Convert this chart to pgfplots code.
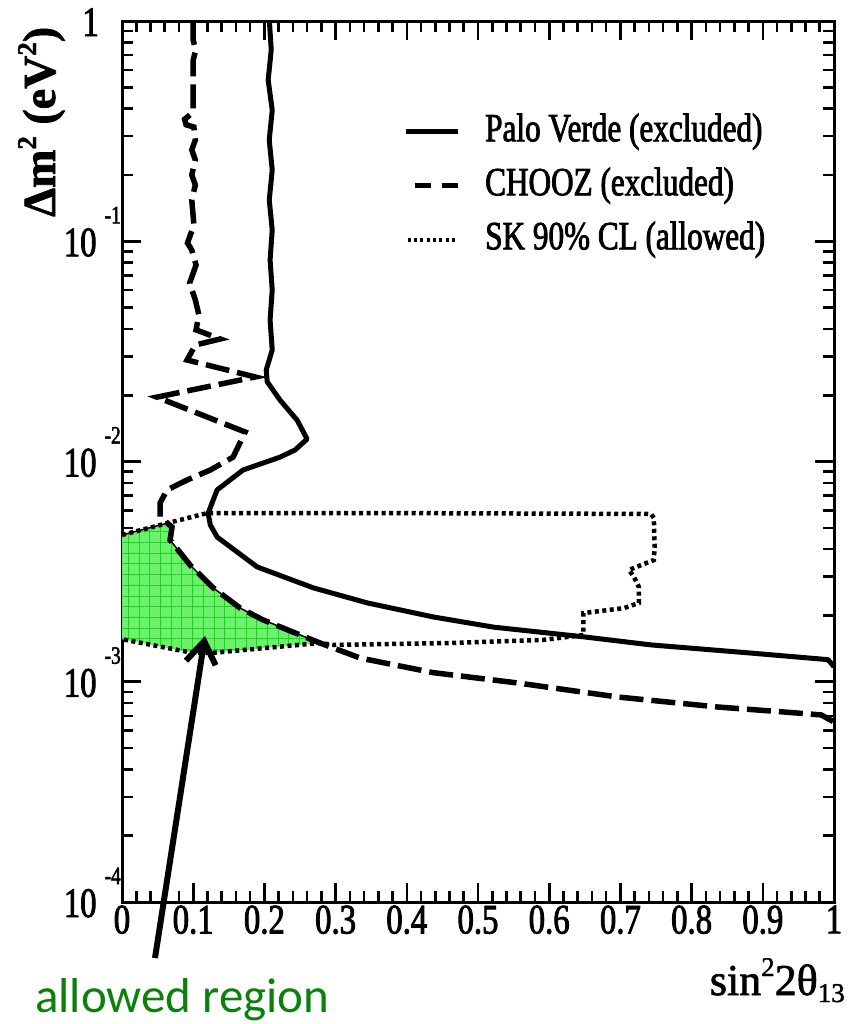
\documentclass[border=0pt]{standalone}
\usepackage{fontspec}
\setmainfont{Liberation Serif}[FakeStretch=0.78, FakeBold=2]
\newfontfamily\wideserif{Liberation Serif}[FakeBold=1.6]
\newfontfamily\notefont{Carlito}
\usepackage{pgfplots}
\pgfplotsset{compat=1.18}
\usetikzlibrary{arrows.meta,patterns.meta}

\definecolor{fillgreen}{RGB}{110,240,110}
\definecolor{gridgreen}{RGB}{20,220,20}
\definecolor{notegreen}{RGB}{10,130,10}

% decade label: "10" with a raised exponent
\newcommand{\dec}[1]{10\kern8bp\raisebox{33bp}{\fontsize{25bp}{25bp}\selectfont #1}}
% raised and lowered indices for the axis titles
\newcommand{\up}[2]{\raisebox{#1}{\fontsize{27bp}{27bp}\selectfont #2}}

\begin{document}
\begin{tikzpicture}
\path[use as bounding box] (0,0) rectangle (848bp,1024bp);
\begin{axis}[
  at={(122bp,122bp)}, anchor=south west,
  scale only axis, width=712bp, height=881bp,
  xmin=0, xmax=1, ymin=1e-4, ymax=1, ymode=log,
  xtick={0,0.1,0.2,0.3,0.4,0.5,0.6,0.7,0.8,0.9,1},
  xticklabels={0,0.1,0.2,0.3,0.4,0.5,0.6,0.7,0.8,0.9,1},
  minor x tick num=4,
  ytick={1e-4,1e-3,1e-2,1e-1,1},
  yticklabels={\dec{-4},\dec{-3},\dec{-2},\dec{-1},1\kern22bp},
  tick align=inside,
  major tick length=19bp, minor tick length=11bp,
  every tick/.style={black, line width=2.6bp},
  axis line style={line width=3bp},
  xticklabel style={font=\fontsize{42bp}{44bp}\selectfont},
  yticklabel style={font=\fontsize{42bp}{44bp}\selectfont, anchor=base east, yshift=-15bp, inner sep=1bp},
  legend style={draw=none, fill=none, at={(rel axis cs:0.3947,0.8955)}, anchor=north west,
    inner sep=0pt, row sep=17bp,
    nodes={inner sep=0pt, text height=28bp, text depth=9bp, font=\fontsize{40bp}{42bp}\selectfont},
    /tikz/every odd column/.style={column sep=25bp}},
  legend cell align=left,
]
% allowed region between the SK contour and the CHOOZ limit
\addplot[fill=fillgreen, draw=none, forget plot,
  postaction={pattern={Hatch[distance=10.7bp, angle=0, line width=0.9bp]}, pattern color=gridgreen}]
  coordinates {(0,0.00464) (0.0647,0.00526) (0.0703,0.00504) (0.0675,0.00440) (0.0956,0.00339)
   (0.128,0.00267) (0.166,0.00216) (0.198,0.00191) (0.278,0.00150) (0.124,0.00135)
   (0.0956,0.00136) (0,0.00156)} --cycle;
\addplot[line width=1.5bp, forget plot] coordinates {(0,0.00464) (0.0647,0.00526)};
\addplot[line width=1.5bp, forget plot] coordinates {(0.0647,0.00526) (0.0703,0.00504) (0.0675,0.00440)
   (0.0956,0.00339) (0.128,0.00267) (0.166,0.00216) (0.198,0.00191) (0.278,0.00150)};

% Palo Verde
\addplot[line width=5bp, line join=round, forget plot] coordinates {
 (0.207,1.0) (0.2096,0.738) (0.2053,0.540) (0.211,0.394) (0.2068,0.288) (0.211,0.2106)
 (0.2068,0.154) (0.211,0.1125) (0.208,0.0822) (0.211,0.0601) (0.208,0.0439) (0.211,0.0321)
 (0.2025,0.0260) (0.204,0.0230) (0.222,0.0190) (0.246,0.0154) (0.260,0.01265) (0.243,0.01128)
 (0.222,0.01047) (0.170,0.00915) (0.1336,0.00743) (0.121,0.00583) (0.124,0.00515)
 (0.1336,0.00454) (0.190,0.00332) (0.2686,0.00267) (0.3446,0.00228) (0.437,0.00197)
 (0.522,0.00177) (0.648,0.00160) (0.743,0.00147) (0.883,0.00135) (0.9916,0.00126) (1.0,0.00117)};

% CHOOZ
\addplot[line width=5.5bp, dash pattern=on 24bp off 8bp, forget plot] coordinates {
 (0.100,1.0) (0.100,0.820) (0.1035,0.738) (0.100,0.665) (0.100,0.386) (0.088,0.358)
 (0.090,0.338) (0.101,0.330) (0.103,0.288) (0.098,0.260) (0.103,0.234) (0.098,0.200)
 (0.103,0.180) (0.098,0.154) (0.101,0.1186) (0.092,0.0982) (0.098,0.0912) (0.104,0.0780)
 (0.095,0.0646) (0.103,0.0541) (0.108,0.0463) (0.104,0.0396) (0.138,0.0360) (0.103,0.0338)
 (0.0914,0.0289) (0.187,0.0242) (0.049,0.0196) (0.173,0.01361) (0.156,0.01047) (0.124,0.00915)
 (0.0914,0.00824) (0.0633,0.00743) (0.0534,0.00648) (0.0534,0.00560) (0.0633,0.00526)
 (0.0703,0.00504) (0.0675,0.00440) (0.0956,0.00339) (0.128,0.00267) (0.166,0.00216)
 (0.198,0.00191) (0.278,0.00150) (0.335,0.00128) (0.437,0.00110) (0.556,0.000987)
 (0.696,0.000853) (0.837,0.000768) (0.930,0.000729) (0.982,0.000707) (1.0,0.000657)};

% SK 90% CL
\addplot[line width=4.5bp, dash pattern=on 4bp off 3.5bp, forget plot] coordinates {
 (0,0.00464) (0.0647,0.00526) (0.1195,0.00583) (0.391,0.00583) (0.743,0.00578) (0.747,0.00554)
 (0.748,0.00409) (0.747,0.00357) (0.712,0.00322) (0.719,0.00299) (0.726,0.00269) (0.726,0.00228)
 (0.705,0.00216) (0.648,0.00205) (0.648,0.00163) (0.592,0.00155) (0.461,0.00150) (0.2968,0.00147)
 (0.278,0.00150) (0.124,0.00135) (0.0956,0.00136) (0,0.00156)};

\addlegendimage{legend image code/.code={\draw[line width=5bp] (0bp,0bp) -- (52bp,0bp);}}
\addlegendentry{Palo Verde (excluded)}
\addlegendimage{legend image code/.code={\draw[line width=5bp, dash pattern=on 16bp off 11bp] (9bp,0bp) -- (52bp,0bp);}}
\addlegendentry{CHOOZ (excluded)}
\addlegendimage{legend image code/.code={\draw[line width=4bp, dash pattern=on 3bp off 3.3bp] (2bp,0bp) -- (52bp,0bp);}}
\addlegendentry{SK 90\% CL (allowed)}
\end{axis}

\draw[line width=6bp, -{Straight Barb[length=22bp, width=30bp, line width=6bp]}] (155bp,66bp) -- (205bp,388bp);

\node[rotate=90, anchor=base west, inner sep=0pt, font=\wideserif\bfseries\fontsize{46bp}{48bp}\selectfont]
  at (55bp,807bp) {Δm\up{19bp}{2} (eV\up{19bp}{2})};
\node[anchor=base east, inner sep=0pt, font=\wideserif\fontsize{44bp}{46bp}\selectfont]
  at (845bp,29bp) {sin\up{19bp}{2}2θ\up{-7bp}{13}};
\node[anchor=base west, inner sep=0pt, text=notegreen, font=\notefont\fontsize{49bp}{52bp}\selectfont]
  at (35bp,12bp) {allowed region};
\end{tikzpicture}
\end{document}
